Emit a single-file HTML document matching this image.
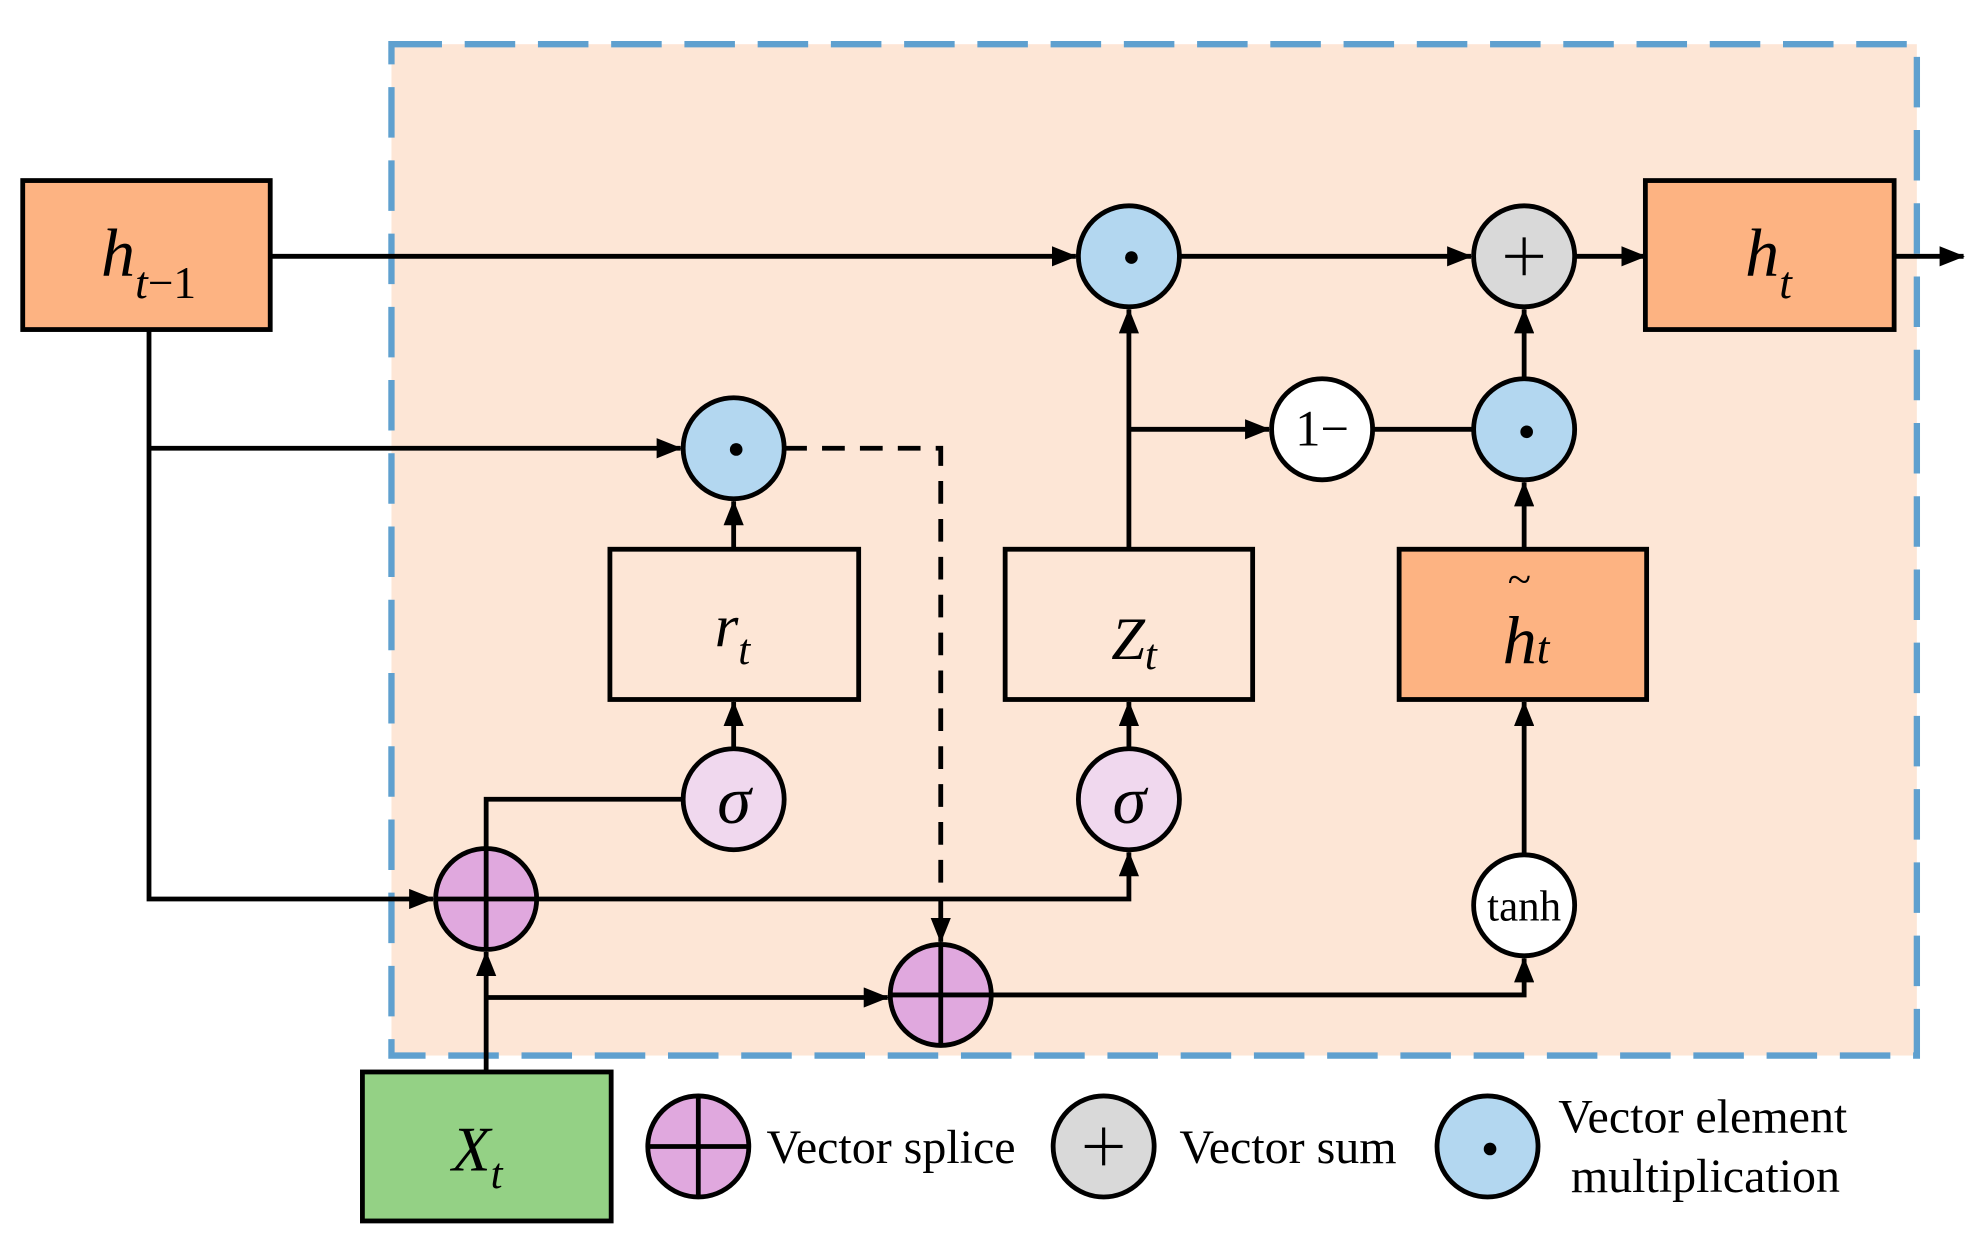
<!DOCTYPE html>
<html><head><meta charset="utf-8"><style>html,body{margin:0;padding:0;background:#fff}svg{display:block}</style></head><body>
<svg width="1980" height="1250" viewBox="0 0 1568 990" preserveAspectRatio="none" xmlns="http://www.w3.org/2000/svg" font-family="'Liberation Serif', serif">
<defs>
<marker id="b" markerWidth="20" markerHeight="16" refX="19" refY="8" orient="auto" markerUnits="userSpaceOnUse" viewBox="0 0 20 16"><path d="M0,0 L20,8 L0,16z" fill="#000"/></marker></defs>
<rect x="310" y="35" width="1208" height="801" fill="#fde6d6" stroke="#5fa0cf" stroke-width="5" stroke-dasharray="40 18"/>
<g stroke="#000" stroke-width="3.8" fill="none">
<path d="M214,203 H852" marker-end="url(#b)"/>
<path d="M935,203 H1165" marker-end="url(#b)"/>
<path d="M1248,203 H1303" marker-end="url(#b)"/>
<path d="M1500,203 H1555" marker-end="url(#b)"/>
<path d="M118,261 V712 H343" marker-end="url(#b)"/>
<path d="M118,355 H539" marker-end="url(#b)"/>
<path d="M621,355 H745 V746" stroke-dasharray="18 12" marker-end="url(#b)"/>
<path d="M581,435 V397" marker-end="url(#b)"/>
<path d="M581,593 V556" marker-end="url(#b)"/>
<path d="M894,593 V556" marker-end="url(#b)"/>
<path d="M894,435 V245" marker-end="url(#b)"/>
<path d="M894,340 H1005" marker-end="url(#b)"/>
<path d="M1088,340 H1167"/>
<path d="M1207,300 V245" marker-end="url(#b)"/>
<path d="M1207,435 V382" marker-end="url(#b)"/>
<path d="M1207,677 V556" marker-end="url(#b)"/>
<path d="M425,712 H894 V675" marker-end="url(#b)"/>
<path d="M385,672 V633 H541"/>
<path d="M385,849 V754" marker-end="url(#b)"/>
<path d="M385,790 H703" marker-end="url(#b)"/>
<path d="M785,788 H1207 V759" marker-end="url(#b)"/>
</g>
<g stroke="#000" stroke-width="3.8">
<rect x="18" y="143" width="196" height="118" fill="#fdb382"/>
<rect x="1303" y="143" width="197" height="118" fill="#fdb382"/>
<rect x="483" y="435" width="197" height="119" fill="none"/>
<rect x="796" y="435" width="196" height="119" fill="none"/>
<rect x="1108" y="435" width="196" height="119" fill="#fdb382"/>
<rect x="287" y="849" width="197" height="118" fill="#94d185"/>
<circle cx="894" cy="203" r="40" fill="#b3d7f0"/>
<circle cx="1207" cy="203" r="40" fill="#d9d9d9"/>
<circle cx="581" cy="355" r="40" fill="#b3d7f0"/>
<circle cx="1047" cy="340" r="40" fill="#fff"/>
<circle cx="1207" cy="340" r="40" fill="#b3d7f0"/>
<circle cx="581" cy="633" r="40" fill="#f0d8ee"/>
<circle cx="894" cy="633" r="40" fill="#f0d8ee"/>
<circle cx="1207" cy="717" r="40" fill="#fff"/>
<circle cx="385" cy="712" r="40" fill="#e0a8de"/>
<circle cx="745" cy="788" r="40" fill="#e0a8de"/>
<circle cx="553" cy="908" r="40" fill="#e0a8de"/>
<circle cx="874" cy="908" r="40" fill="#d9d9d9"/>
<circle cx="1178" cy="908" r="40" fill="#b3d7f0"/>
<path d="M345,712 H425 M385,672 V752 M705,788 H785 M745,748 V828 M513,908 H593 M553,868 V948" fill="none"/>
<path d="M1192,203 H1222 M1207,188 V218 M859,908 H889 M874,893 V923" fill="none" stroke-width="2.5"/>
</g>
<g fill="#000"><circle cx="896" cy="204" r="5"/><circle cx="583" cy="356" r="5"/><circle cx="1209" cy="342" r="5"/><circle cx="1180" cy="910" r="5"/></g>
<g font-style="italic" fill="#000">
<text x="80" y="218" font-size="54">h<tspan font-size="36" dy="18">t</tspan><tspan font-style="normal" font-size="36">−1</tspan></text>
<text x="1382" y="218" font-size="54">h<tspan font-size="36" dy="18">t</tspan></text>
<text x="566" y="512" font-size="48">r<tspan font-size="34" dy="14">t</tspan></text>
<text x="880" y="522" font-size="48">Z<tspan font-size="34" dy="8">t</tspan></text>
<text x="1190" y="525" font-size="54">h<tspan font-size="36">t</tspan></text>
<text x="1194" y="470" font-size="34" font-style="normal">~</text>
<text x="358" y="927" font-size="50">X<tspan font-size="34" dy="14">t</tspan></text>
<text x="568" y="652" font-size="54">σ</text>
<text x="881" y="652" font-size="54">σ</text>
</g>
<g fill="#000" font-size="38">
<text x="1047" y="353" text-anchor="middle" font-size="40">1−</text>
<text x="1207" y="729" text-anchor="middle" font-size="34">tanh</text>
<text x="607" y="921">Vector splice</text>
<text x="934" y="921">Vector sum</text>
<text x="1234" y="897">Vector element</text>
<text x="1244" y="944">multiplication</text>
</g>
</svg>
</body></html>
